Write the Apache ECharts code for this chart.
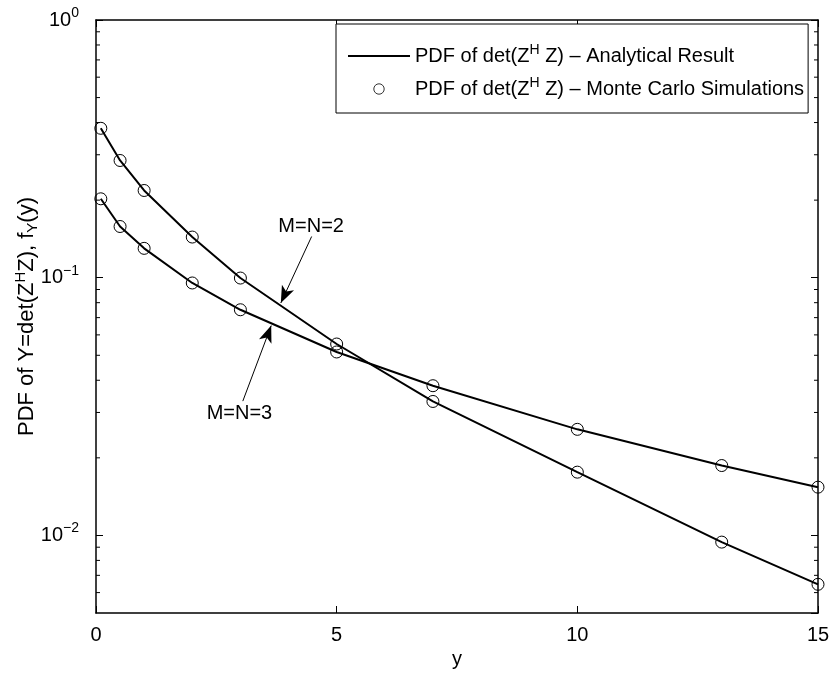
<!DOCTYPE html>
<html>
<head>
<meta charset="utf-8">
<script src="https://cdn.jsdelivr.net/npm/echarts@6/dist/echarts.min.js"></script>
<style>
  html, body { margin: 0; padding: 0; background: #fff; }
  #chart { width: 831px; height: 675px; }
</style>
</head>
<body>
<div id="chart"></div>
<script>
// Evaluation points of y
const yPoints = [0.1, 0.5, 1, 2, 3, 5, 7, 10, 13, 15];
// PDF of det(Z^H Z) for M=N=2 (analytical result)
const pdfM2 = [0.380, 0.285, 0.218, 0.1438, 0.0997, 0.0553, 0.0331, 0.0176, 0.00942, 0.00646];
// PDF of det(Z^H Z) for M=N=3 (analytical result)
const pdfM3 = [0.2024, 0.158, 0.130, 0.0954, 0.0751, 0.0515, 0.0381, 0.0258, 0.01867, 0.01539];
// Monte Carlo estimates at the same points
const mcM2 = [0.380, 0.285, 0.218, 0.1438, 0.0997, 0.0553, 0.0331, 0.0176, 0.00942, 0.00646];
const mcM3 = [0.2024, 0.158, 0.130, 0.0954, 0.0751, 0.0515, 0.0381, 0.0258, 0.01867, 0.01539];

// Axis ranges and ticks
const X_MIN = 0, X_MAX = 15, X_STEP = 5;
const Y_MIN = 0.005, Y_MAX = 1;
const minorTicks = [0.006, 0.007, 0.008, 0.009,
  0.02, 0.03, 0.04, 0.05, 0.06, 0.07, 0.08, 0.09,
  0.2, 0.3, 0.4, 0.5, 0.6, 0.7, 0.8, 0.9];

// Annotation arrows: label, text position, arrow tail, arrow tip (data coordinates)
const annotations = [
  { text: 'M=N=2', at: [4.47, 0.158], from: [4.48, 0.1445], to: [3.84, 0.0798] },
  { text: 'M=N=3', at: [2.98, 0.0296], from: [3.05, 0.0332], to: [3.64, 0.0652] }
];

const NAME_ANALYTIC = 'analytic';
const NAME_MC = 'mc';

const FONT = 'Liberation Sans, Arial, Helvetica, sans-serif';
const pair = (xs, ys) => xs.map((x, i) => [x, ys[i]]);

const chart = echarts.init(document.getElementById('chart'), null, { renderer: 'canvas' });

const isDecade = v => Math.abs(Math.log10(v) - Math.round(Math.log10(v))) < 1e-6;
const expLabel = v => {
  if (!isDecade(v)) return '';
  const e = Math.round(Math.log10(v));
  return '{b|10}{e|' + (e < 0 ? '\u2212' + (-e) : e) + '}';
};

const AXIS_W = 1.5;
const axisCommon = {
  axisLine: { show: true, onZero: false, lineStyle: { color: '#000', width: AXIS_W } },
  axisTick: { show: true, inside: true, length: 7, lineStyle: { color: '#000', width: 1 } },
  splitLine: { show: false }
};

const legendText = {
  [NAME_ANALYTIC]: '{n|PDF of det(Z}{s|H}{n| Z) \u2013 Analytical Result}',
  [NAME_MC]: '{n|PDF of det(Z}{s|H}{n| Z) \u2013 Monte Carlo Simulations}'
};

const markLineData = annotations.map(a => [
  { coord: a.from, symbol: 'none' },
  { coord: a.to, symbol: 'arrow', symbolSize: [10, 17] }
]);
const markPointData = annotations.map(a => ({ coord: a.at, value: a.text }));

const option = {
  backgroundColor: '#fff',
  animation: false,
  textStyle: { fontFamily: FONT },
  grid: { left: 96, right: 13, top: 20, bottom: 62, containLabel: false, outerBoundsMode: 'none' },
  legend: {
    orient: 'vertical',
    left: 336,
    top: 24,
    selectedMode: false,
    backgroundColor: '#fff',
    borderColor: '#000',
    borderWidth: 1,
    padding: [19, 4, 14, 11],
    itemGap: 10,
    itemWidth: 62,
    itemHeight: 13,
    data: [
      NAME_ANALYTIC,
      { name: NAME_MC, itemStyle: { color: 'rgba(0,0,0,0)', borderColor: '#000', borderWidth: 0.8 } }
    ],
    formatter: name => legendText[name],
    textStyle: {
      color: '#000',
      rich: {
        n: { fontSize: 20, fontFamily: FONT, color: '#000', lineHeight: 24 },
        s: { fontSize: 14, fontFamily: FONT, color: '#000', padding: [0, 0, 12, 0] }
      }
    }
  },
  xAxis: [
    Object.assign({}, axisCommon, {
      type: 'value', position: 'bottom', min: X_MIN, max: X_MAX, interval: X_STEP,
      name: 'y', nameLocation: 'middle', nameGap: 36,
      nameTextStyle: { fontSize: 20, color: '#000', fontFamily: FONT },
      axisLabel: { color: '#000', fontSize: 20, margin: 12, fontFamily: FONT }
    }),
    Object.assign({}, axisCommon, {
      type: 'value', position: 'top', min: X_MIN, max: X_MAX, interval: X_STEP,
      axisLabel: { show: false }
    })
  ],
  yAxis: [
    Object.assign({}, axisCommon, {
      type: 'log', logBase: 10, position: 'left', min: Y_MIN, max: Y_MAX,
      name: '{n|PDF of Y=det(Z}{s|H}{n|Z), f}{u|Y}{n|(y)}',
      nameLocation: 'middle', nameGap: 56, nameRotate: 90, nameMoveOverlap: false,
      nameTextStyle: {
        color: '#000',
        rich: {
          n: { fontSize: 22, fontFamily: FONT, color: '#000', lineHeight: 24 },
          s: { fontSize: 15, fontFamily: FONT, color: '#000', padding: [0, 0, 12, 0] },
          u: { fontSize: 15, fontFamily: FONT, color: '#000', padding: [12, 0, 0, 0] }
        }
      },
      axisLabel: {
        color: '#000', margin: 17, showMinLabel: false,
        formatter: expLabel,
        rich: {
          b: { fontSize: 20, fontFamily: FONT, color: '#000', lineHeight: 22 },
          e: { fontSize: 14, fontFamily: FONT, color: '#000', padding: [0, 0, 14, 0] }
        }
      }
    }),
    Object.assign({}, axisCommon, {
      type: 'log', logBase: 10, position: 'right', min: Y_MIN, max: Y_MAX,
      axisLabel: { show: false }
    })
  ],
  series: [
    {
      name: NAME_ANALYTIC, type: 'line', data: pair(yPoints, pdfM2),
      symbol: 'none', lineStyle: { color: '#000', width: 2 },
      itemStyle: { color: 'rgba(0,0,0,0)' },
      z: 2,
      markLine: {
        silent: true, animation: false,
        label: { show: false },
        lineStyle: { color: '#000', width: 1, type: 'solid' },
        itemStyle: { color: '#000' },
        emphasis: { disabled: true },
        data: markLineData
      },
      markPoint: {
        silent: true, animation: false,
        symbol: 'circle', symbolSize: 0,
        label: { show: true, position: 'inside', color: '#000', fontSize: 20, fontFamily: FONT,
          formatter: p => p.value },
        data: markPointData
      }
    },
    {
      name: NAME_ANALYTIC, type: 'line', data: pair(yPoints, pdfM3),
      symbol: 'none', lineStyle: { color: '#000', width: 2 },
      itemStyle: { color: 'rgba(0,0,0,0)' }, z: 2
    },
    {
      name: NAME_MC, type: 'line', data: pair(yPoints, mcM2),
      symbol: 'circle', symbolSize: 12, showSymbol: true,
      lineStyle: { opacity: 0, width: 0 },
      itemStyle: { color: 'rgba(0,0,0,0)', borderColor: '#000', borderWidth: 1 }, z: 3
    },
    {
      name: NAME_MC, type: 'line', data: pair(yPoints, mcM3),
      symbol: 'circle', symbolSize: 12, showSymbol: true,
      lineStyle: { opacity: 0, width: 0 },
      itemStyle: { color: 'rgba(0,0,0,0)', borderColor: '#000', borderWidth: 1 }, z: 3
    },
    {
      // short minor ticks on the left and right edges of the log axis
      name: 'minorTicks', type: 'custom', silent: true, clip: false, z: 4,
      data: minorTicks.map(v => [X_MIN, v]),
      renderItem: (params, api) => {
        const v = api.value(1);
        const l = api.coord([X_MIN, v]);
        const r = api.coord([X_MAX, v]);
        const st = { stroke: '#000', lineWidth: 1 };
        return {
          type: 'group',
          children: [
            { type: 'line', shape: { x1: l[0], y1: l[1], x2: l[0] + 4, y2: l[1] }, style: st },
            { type: 'line', shape: { x1: r[0], y1: r[1], x2: r[0] - 4, y2: r[1] }, style: st }
          ]
        };
      }
    }
  ]
};

chart.setOption(option);
</script>
</body>
</html>
